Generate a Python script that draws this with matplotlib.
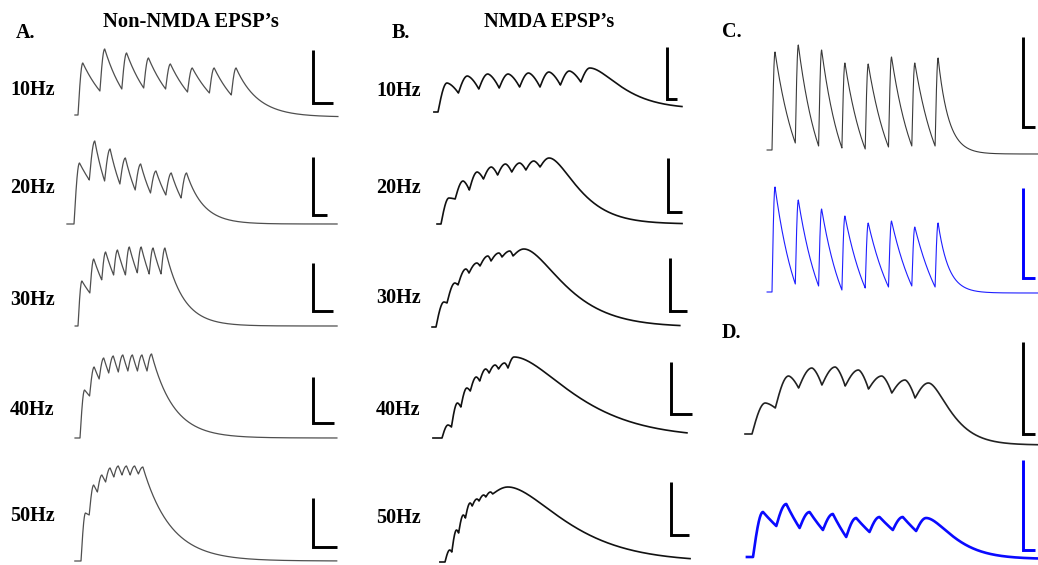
import numpy as np
import matplotlib.pyplot as plt

W, H = 1038, 565
PX_PER_MV = 10.0

# ---------------- recordings (mV above resting level, 8-pulse trains) ----------------
rates = [10, 20, 30, 40, 50]
rate_labels = ["10Hz", "20Hz", "30Hz", "40Hz", "50Hz"]

# A. non-NMDA EPSPs
a_peaks = [[5.2, 6.6, 6.2, 5.7, 5.1, 4.7, 4.7, 4.7],
           [6.1, 8.3, 7.5, 6.6, 6.0, 5.3, 5.1, 5.1],
           [4.5, 6.7, 7.4, 7.6, 7.9, 7.9, 7.8, 7.8],
           [4.8, 7.1, 8.0, 8.2, 8.3, 8.3, 8.3, 8.4],
           [4.8, 7.6, 8.6, 9.3, 9.5, 9.5, 9.5, 9.4]]
a_troughs = [[2.4, 2.6, 2.7, 2.6, 2.3, 2.2, 2.0],
             [4.4, 4.3, 4.0, 3.4, 3.1, 2.9, 2.6],
             [3.3, 4.6, 5.1, 5.1, 5.3, 5.2, 5.2],
             [4.2, 5.9, 6.5, 6.6, 6.7, 6.7, 6.7],
             [4.6, 6.9, 7.9, 8.4, 8.6, 8.6, 8.7]]
a_rise = [22, 18, 11, 12, 11]          # ms
a_tail_tau = [100, 55, 50, 58, 68]     # ms
a_end = [-0.2, 0.0, 0.0, 0.0, 0.0]
a_record = [(-14, 1187), (-23, 860), (-8, 728), (-13, 671), (-15, 624)]
a_bar_mv = [5.3, 5.8, 4.8, 4.6, 4.9]
a_bar_ms = [90, 45, 56, 55, 58]

# B. NMDA EPSPs
b_peaks = [[2.9, 3.6, 3.8, 3.8, 3.9, 4.0, 4.1, 4.4],
           [2.6, 4.3, 5.2, 5.7, 6.0, 6.1, 6.3, 6.6],
           [2.5, 4.4, 5.8, 6.4, 7.1, 7.4, 7.6, 7.8],
           [1.3, 3.5, 5.0, 6.1, 6.9, 7.3, 7.5, 8.1],
           [1.2, 3.2, 4.7, 5.9, 6.3, 6.7, 7.0, 7.5]]
b_troughs = [[1.9, 2.3, 2.4, 2.5, 2.5, 2.7, 3.0],
             [2.5, 3.4, 4.5, 4.9, 5.2, 5.4, 5.7],
             [2.4, 4.2, 5.4, 6.1, 6.6, 7.0, 7.1],
             [1.1, 3.1, 4.7, 5.7, 6.5, 6.9, 7.0],
             [1.0, 2.9, 4.4, 5.6, 6.1, 6.5, 6.8]]
b_rise = [44, 28, 24, 16, 14]
b_last_rise = [44, 32, 33, 16, 45]
b_tail_tau = [100, 67, 80, 103, 110]
b_end = [0.3, 0.0, 0.0, 0.0, 0.0]
b_record = [(-20, 1196), (-14, 852), (-12, 739), (-24, 650), (-15, 721)]
b_bar_mv = [5.2, 5.4, 5.3, 5.2, 5.3]
b_bar_ms = [50, 50, 51, 56, 53]

# C. non-NMDA pair, D. NMDA pair (10 Hz); black = control, blue = test
c_peaks = [[9.8, 10.5, 10.0, 8.7, 8.6, 9.3, 8.7, 9.2],
           [10.5, 9.2, 8.3, 7.6, 6.9, 7.1, 6.5, 6.9]]
c_troughs = [[0.7, 0.4, 0.2, 0.1, 0.3, 0.4, 0.4],
             [0.8, 0.6, 0.2, 0.4, 0.5, 0.6, 0.5]]
c_end = [-0.4, -0.1]
c_record = [(-21, 1163), (-21, 1163)]
c_bar_mv = [9.0, 9.0]

d_peaks = [[3.1, 5.8, 6.6, 6.7, 6.4, 5.8, 5.4, 5.1],
           [4.5, 5.3, 4.5, 4.3, 3.9, 4.0, 4.0, 3.9]]
d_troughs = [[2.6, 4.6, 4.9, 4.8, 4.5, 4.1, 3.6],
             [3.1, 2.9, 2.7, 2.0, 2.5, 2.7, 2.6]]
d_end = [-1.1, -0.2]
d_record = [(-30, 1227), (-26, 1223)]
d_bar_mv = [9.2, 9.0]
cd_bar_ms = 50


def epsp_train(t, freq, peaks, troughs, rise, tail_tau, end=0.0, floor=0.0,
               rounded=False, round_tail=None, last_rise=None):
    """Summed EPSP train: each pulse rises to its peak then relaxes to the next trough."""
    if round_tail is None:
        round_tail = rounded
    isi = 1000.0 / freq
    v = np.zeros_like(t)
    n = len(peaks)
    for i in range(n):
        t0 = i * isi
        r = last_rise if (last_rise is not None and i == n - 1) else rise
        tp = t0 + r
        start = 0.0 if i == 0 else troughs[i - 1]
        m = (t >= t0) & (t < tp)
        u = (t[m] - t0) / r
        v[m] = start + (peaks[i] - start) * np.sin(np.pi / 2 * u)
        if i < n - 1:
            t1 = (i + 1) * isi
            m = (t >= tp) & (t < t1)
            w = (t[m] - tp) / (t1 - tp)
            if rounded:
                v[m] = peaks[i] + (troughs[i] - peaks[i]) * w ** 1.6
            else:
                k = np.log((peaks[i] - floor) / (troughs[i] - floor))
                v[m] = floor + (peaks[i] - floor) * np.exp(-k * w)
        else:
            m = t >= tp
            x = (t[m] - tp) / tail_tau
            shape = (1 + x) * np.exp(-x) if round_tail else np.exp(-x)
            v[m] = end + (peaks[i] - end) * shape
    return v


fig = plt.figure(figsize=(W / 100, H / 100), dpi=100)
fig.patch.set_facecolor("white")


def trace_axes(box, stim_px, base_px, px_per_ms):
    x0, y0, x1, y1 = box
    ax = fig.add_axes([x0 / W, 1 - y1 / H, (x1 - x0) / W, (y1 - y0) / H])
    ax.set_xlim((x0 - stim_px) / px_per_ms, (x1 - stim_px) / px_per_ms)
    ax.set_ylim((base_px - y1) / PX_PER_MV, (base_px - y0) / PX_PER_MV)
    ax.axis("off")
    return ax


def scale_bar(ax, corner, stim_px, base_px, px_per_ms, mv, ms, color):
    bx = (corner[0] - stim_px) / px_per_ms
    by = (base_px - corner[1]) / PX_PER_MV
    ax.plot([bx, bx, bx + ms], [by + mv, by, by], color=color, lw=2.1,
            solid_joinstyle="miter", solid_capstyle="butt")


# pixel layout: stimulus onset x, baseline y, px per ms
a_layout = [(78, 115, 0.219), (74, 224, 0.306), (78, 326, 0.356),
            (80, 438, 0.383), (81, 561, 0.410)]
b_layout = [(438, 112, 0.204), (441, 224, 0.283), (436, 327, 0.330),
            (442, 438, 0.377), (445, 562, 0.340)]
row_bands = [(35, 130), (135, 235), (240, 340), (340, 450), (450, 565)]
a_bar_corner = [(313, 103), (313, 215), (313, 311), (313, 423), (313, 547)]
b_bar_corner = [(667, 99), (668, 212), (670, 311), (671, 414), (671, 535)]

for i in range(5):
    stim, base, ppms = a_layout[i]
    ax = trace_axes((60, row_bands[i][0], 345, row_bands[i][1]), stim, base, ppms)
    t = np.arange(a_record[i][0], a_record[i][1], 0.25)
    v = epsp_train(t, rates[i], a_peaks[i], a_troughs[i], a_rise[i],
                   a_tail_tau[i], end=a_end[i], floor=-1.5)
    ax.plot(t, v, color="#4f4f4f", lw=0.9)
    scale_bar(ax, a_bar_corner[i], stim, base, ppms, a_bar_mv[i], a_bar_ms[i], "black")

    stim, base, ppms = b_layout[i]
    ax = trace_axes((425, row_bands[i][0], 700, row_bands[i][1]), stim, base, ppms)
    t = np.arange(b_record[i][0], b_record[i][1], 0.25)
    v = epsp_train(t, rates[i], b_peaks[i], b_troughs[i], b_rise[i],
                   b_tail_tau[i], end=b_end[i], rounded=True,
                   last_rise=b_last_rise[i])
    ax.plot(t, v, color="#111111", lw=1.2)
    scale_bar(ax, b_bar_corner[i], stim, base, ppms, b_bar_mv[i], b_bar_ms[i], "black")

# C: fast EPSPs, control (black) and test (blue)
c_boxes = [(750, 30, 1038, 160), (750, 165, 1038, 300)]
c_layout = [(772, 150, 0.233), (772, 292, 0.233)]
c_bar_corner = [(1023, 127), (1023, 278)]
c_colors = ["#3a3a3a", "#1e1eff"]
c_bar_colors = ["black", "#0000ff"]
for k in range(2):
    stim, base, ppms = c_layout[k]
    ax = trace_axes(c_boxes[k], stim, base, ppms)
    t = np.arange(c_record[k][0], c_record[k][1], 0.25)
    v = epsp_train(t, 10, c_peaks[k], c_troughs[k], 13, 45, end=c_end[k], floor=-6.0)
    ax.plot(t, v, color=c_colors[k], lw=0.8)
    scale_bar(ax, c_bar_corner[k], stim, base, ppms, c_bar_mv[k], cd_bar_ms, c_bar_colors[k])

# D: slow EPSPs, control (black) and test (blue)
d_boxes = [(735, 335, 1038, 450), (735, 452, 1038, 565)]
d_layout = [(752, 434, 0.233), (753, 557, 0.233)]
d_bar_corner = [(1023, 434), (1023, 550)]
d_rise = [57, 43]
d_tail_tau = [62, 76]
d_colors = ["#222222", "#0a0aff"]
d_widths = [1.2, 1.9]
for k in range(2):
    stim, base, ppms = d_layout[k]
    ax = trace_axes(d_boxes[k], stim, base, ppms)
    t = np.arange(d_record[k][0], d_record[k][1], 0.25)
    if k == 0:
        v = epsp_train(t, 10, d_peaks[k], d_troughs[k], d_rise[k], d_tail_tau[k],
                       end=d_end[k], rounded=True)
    else:
        v = epsp_train(t, 10, d_peaks[k], d_troughs[k], d_rise[k], d_tail_tau[k],
                       end=d_end[k], floor=-5.0, round_tail=True)
    ax.plot(t, v, color=d_colors[k], lw=d_widths[k])
    scale_bar(ax, d_bar_corner[k], stim, base, ppms, d_bar_mv[k], cd_bar_ms, c_bar_colors[k])

# ---------------- labels ----------------
font = dict(family="Liberation Serif", weight="bold", color="black")


def label(x, y, s, size, ha="left"):
    fig.text(x / W, 1 - y / H, s, ha=ha, va="center", fontsize=size, **font)


label(191, 22, "Non-NMDA EPSP\u2019s", 14.8, ha="center")
label(549, 22, "NMDA EPSP\u2019s", 14.6, ha="center")
label(16, 33, "A.", 14.5)
label(392, 33, "B.", 14.5)
label(722, 32, "C.", 14.5)
label(722, 333, "D.", 14.5)

a_label_y = [90, 188, 300, 410, 516]
b_label_y = [91, 188, 298, 410, 518]
for i in range(5):
    label(10, a_label_y[i], rate_labels[i], 14.5)
    label(376, b_label_y[i], rate_labels[i], 14.5)

fig.savefig("out.png", dpi=100, facecolor="white")
